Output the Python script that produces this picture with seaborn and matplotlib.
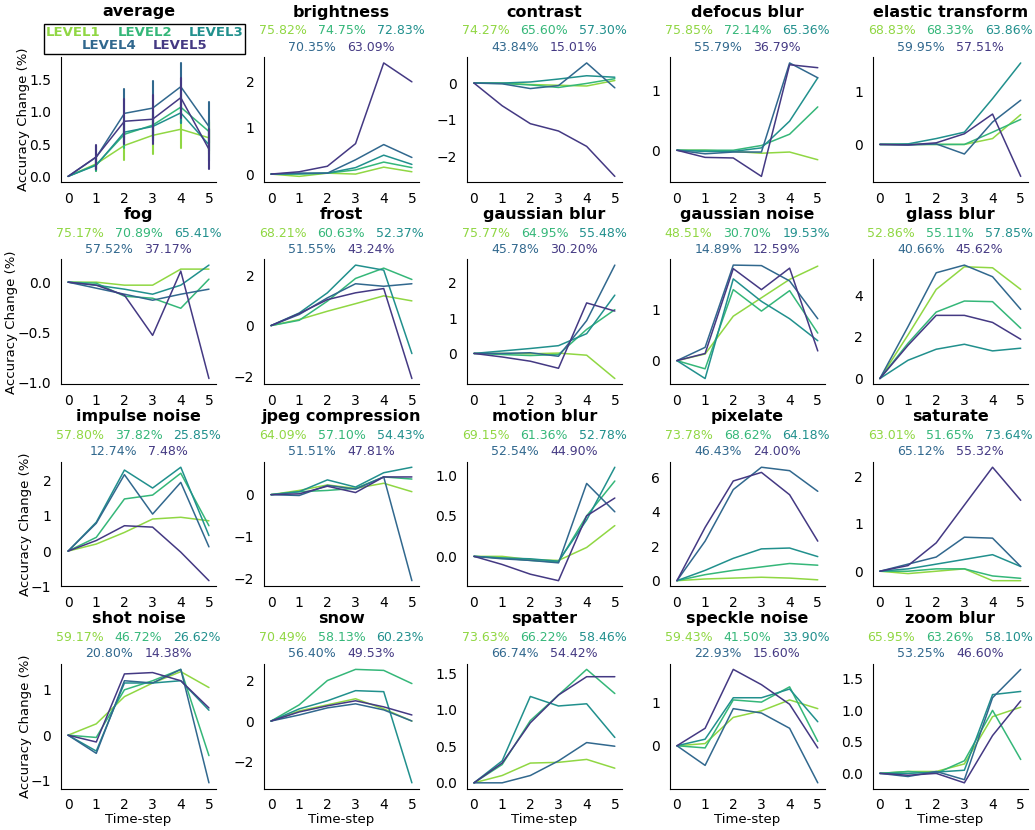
import matplotlib
matplotlib.use("Agg")
import matplotlib.pyplot as plt
from matplotlib.offsetbox import TextArea, HPacker, VPacker, AnchoredOffsetbox
import pandas as pd
import seaborn as sns

sns.set_style("white")
plt.rcParams.update({
    "font.family": ["DejaVu Sans"],
    "text.color": "black",
    "axes.labelcolor": "black",
    "axes.edgecolor": "black",
    "xtick.color": "black",
    "ytick.color": "black",
    "xtick.labelsize": 10,
    "ytick.labelsize": 10,
})

steps = [0, 1, 2, 3, 4, 5]
levels = ["LEVEL1", "LEVEL2", "LEVEL3", "LEVEL4", "LEVEL5"]

# Accuracy change (%) per time-step; one row per severity level (1..5).
# The *_acc lists hold the accuracy reached at each level.
brightness = [
    [0, -0.05, 0.02, 0.00, 0.15, 0.05],
    [0, 0.00, 0.02, 0.09, 0.26, 0.14],
    [0, 0.01, 0.02, 0.14, 0.41, 0.21],
    [0, 0.02, 0.02, 0.31, 0.64, 0.36],
    [0, 0.05, 0.17, 0.66, 2.41, 2.00],
]
brightness_acc = [75.82, 74.75, 72.83, 70.35, 63.09]

contrast = [
    [0, 0.00, -0.04, -0.06, -0.08, 0.07],
    [0, -0.01, -0.05, -0.12, -0.01, 0.12],
    [0, 0.00, 0.03, 0.11, 0.20, 0.16],
    [0, -0.02, -0.15, -0.07, 0.55, -0.13],
    [0, -0.62, -1.11, -1.31, -1.73, -2.55],
]
contrast_acc = [74.27, 65.60, 57.30, 43.84, 15.01]

defocus_blur = [
    [0, 0.00, -0.02, -0.05, -0.03, -0.16],
    [0, 0.00, 0.00, 0.08, 0.27, 0.73],
    [0, -0.02, -0.02, 0.04, 0.49, 1.22],
    [0, -0.06, -0.03, -0.03, 1.47, 1.22],
    [0, -0.12, -0.13, -0.44, 1.44, 1.39],
]
defocus_blur_acc = [75.85, 72.14, 65.36, 55.79, 36.79]

elastic_transform = [
    [0, 0.00, 0.00, 0.00, 0.11, 0.56],
    [0, 0.00, 0.00, 0.00, 0.23, 0.47],
    [0, 0.01, 0.11, 0.23, 0.86, 1.53],
    [0, -0.01, 0.01, -0.18, 0.42, 0.83],
    [0, -0.01, 0.03, 0.20, 0.57, -0.60],
]
elastic_transform_acc = [68.83, 68.33, 63.86, 59.95, 57.51]

fog = [
    [0, 0.00, -0.03, -0.03, 0.13, 0.13],
    [0, -0.01, -0.14, -0.16, -0.26, 0.03],
    [0, -0.03, -0.07, -0.12, -0.03, 0.17],
    [0, -0.06, -0.12, -0.18, -0.12, -0.07],
    [0, -0.03, -0.13, -0.53, 0.11, -0.96],
]
fog_acc = [75.17, 70.89, 65.41, 57.52, 37.17]

frost = [
    [0, 0.24, 0.57, 0.87, 1.18, 0.98],
    [0, 0.21, 0.97, 1.87, 2.28, 1.83],
    [0, 0.50, 1.30, 2.40, 2.20, -1.11],
    [0, 0.44, 1.10, 1.66, 1.56, 1.66],
    [0, 0.48, 1.03, 1.30, 1.47, -2.10],
]
frost_acc = [68.21, 60.63, 52.37, 51.55, 43.24]

gaussian_blur = [
    [0, 0.00, -0.01, 0.01, -0.05, -0.71],
    [0, -0.03, -0.06, -0.03, 0.68, 1.24],
    [0, 0.07, 0.14, 0.22, 0.56, 1.65],
    [0, 0.00, 0.02, -0.08, 0.93, 2.50],
    [0, -0.10, -0.22, -0.42, 1.43, 1.20],
]
gaussian_blur_acc = [75.77, 64.95, 55.48, 45.78, 30.20]

gaussian_noise = [
    [0, 0.13, 0.87, 1.23, 1.59, 1.85],
    [0, -0.16, 1.39, 0.97, 1.37, 0.54],
    [0, -0.35, 1.60, 1.16, 0.82, 0.39],
    [0, 0.26, 1.87, 1.86, 1.56, 0.82],
    [0, 0.14, 1.80, 1.39, 1.81, 0.19],
]
gaussian_noise_acc = [48.51, 30.70, 19.53, 14.89, 12.59]

glass_blur = [
    [0, 2.10, 4.29, 5.38, 5.33, 4.29],
    [0, 1.70, 3.20, 3.73, 3.70, 2.42],
    [0, 0.88, 1.41, 1.65, 1.33, 1.46],
    [0, 2.50, 5.09, 5.46, 4.90, 3.33],
    [0, 1.60, 3.04, 3.04, 2.70, 1.89],
]
glass_blur_acc = [52.86, 55.11, 57.85, 40.66, 45.62]

impulse_noise = [
    [0, 0.20, 0.53, 0.91, 0.96, 0.86],
    [0, 0.39, 1.48, 1.59, 2.21, 0.72],
    [0, 0.82, 2.30, 1.79, 2.38, 0.44],
    [0, 0.79, 2.17, 1.05, 1.95, 0.12],
    [0, 0.30, 0.72, 0.68, -0.03, -0.84],
]
impulse_noise_acc = [57.80, 37.82, 25.85, 12.74, 7.48]

jpeg_compression = [
    [0, 0.10, 0.23, 0.15, 0.27, 0.07],
    [0, 0.07, 0.10, 0.15, 0.42, 0.37],
    [0, 0.07, 0.35, 0.18, 0.52, 0.65],
    [0, -0.02, 0.22, 0.13, 0.42, -2.04],
    [0, 0.02, 0.20, 0.05, 0.42, 0.42],
]
jpeg_compression_acc = [64.09, 57.10, 54.43, 51.51, 47.81]

motion_blur = [
    [0, 0.00, -0.04, -0.05, 0.11, 0.38],
    [0, -0.02, -0.05, -0.07, 0.50, 0.93],
    [0, -0.02, -0.03, -0.06, 0.45, 1.10],
    [0, -0.03, -0.05, -0.08, 0.90, 0.55],
    [0, -0.10, -0.22, -0.30, 0.50, 0.72],
]
motion_blur_acc = [69.15, 61.36, 52.78, 52.54, 44.90]

pixelate = [
    [0, 0.10, 0.15, 0.20, 0.15, 0.05],
    [0, 0.35, 0.60, 0.80, 1.00, 0.90],
    [0, 0.60, 1.30, 1.85, 1.90, 1.40],
    [0, 2.30, 5.30, 6.60, 6.40, 5.20],
    [0, 3.10, 5.80, 6.30, 5.00, 2.30],
]
pixelate_acc = [73.78, 68.62, 64.18, 46.43, 24.00]

saturate = [
    [0, -0.05, 0.00, 0.05, -0.20, -0.20],
    [0, 0.00, 0.05, 0.05, -0.10, -0.15],
    [0, 0.05, 0.15, 0.25, 0.35, 0.10],
    [0, 0.15, 0.30, 0.72, 0.70, 0.10],
    [0, 0.12, 0.60, 1.40, 2.20, 1.50],
]
saturate_acc = [63.01, 51.65, 73.64, 65.12, 55.32]

shot_noise = [
    [0, 0.25, 0.85, 1.15, 1.40, 1.05],
    [0, -0.05, 1.00, 1.20, 1.45, -0.45],
    [0, -0.35, 1.15, 1.15, 1.20, 0.55],
    [0, -0.40, 1.20, 1.15, 1.45, -1.05],
    [0, -0.15, 1.35, 1.38, 1.20, 0.60],
]
shot_noise_acc = [59.17, 46.72, 26.62, 20.80, 14.38]

snow = [
    [0, 0.50, 0.80, 1.10, 0.60, 0.00],
    [0, 0.80, 2.00, 2.55, 2.50, 1.85],
    [0, 0.60, 1.00, 1.50, 1.45, -3.05],
    [0, 0.30, 0.65, 0.85, 0.55, 0.00],
    [0, 0.45, 0.75, 1.00, 0.70, 0.30],
]
snow_acc = [70.49, 58.13, 60.23, 56.40, 49.53]

spatter = [
    [0, 0.10, 0.27, 0.28, 0.32, 0.20],
    [0, 0.25, 0.85, 1.20, 1.55, 1.22],
    [0, 0.30, 1.18, 1.05, 1.08, 0.62],
    [0, 0.00, 0.10, 0.30, 0.55, 0.50],
    [0, 0.27, 0.82, 1.20, 1.45, 1.45],
]
spatter_acc = [73.63, 66.22, 58.46, 66.74, 54.42]

speckle_noise = [
    [0, 0.05, 0.65, 0.80, 1.05, 0.85],
    [0, -0.05, 1.05, 1.00, 1.35, 0.10],
    [0, 0.15, 1.10, 1.10, 1.30, 0.55],
    [0, -0.45, 0.85, 0.75, 0.40, -0.85],
    [0, 0.40, 1.75, 1.40, 0.95, -0.05],
]
speckle_noise_acc = [59.43, 41.50, 33.90, 22.93, 15.60]

zoom_blur = [
    [0, 0.03, 0.03, 0.15, 0.90, 1.05],
    [0, 0.03, 0.00, 0.20, 1.00, 0.22],
    [0, 0.00, 0.02, 0.05, 1.25, 1.30],
    [0, -0.05, 0.03, -0.10, 1.20, 1.65],
    [0, -0.03, 0.00, -0.15, 0.60, 1.15],
]
zoom_blur_acc = [65.95, 63.26, 58.10, 53.25, 46.60]

panels = [
    ("brightness", brightness, brightness_acc),
    ("contrast", contrast, contrast_acc),
    ("defocus blur", defocus_blur, defocus_blur_acc),
    ("elastic transform", elastic_transform, elastic_transform_acc),
    ("fog", fog, fog_acc),
    ("frost", frost, frost_acc),
    ("gaussian blur", gaussian_blur, gaussian_blur_acc),
    ("gaussian noise", gaussian_noise, gaussian_noise_acc),
    ("glass blur", glass_blur, glass_blur_acc),
    ("impulse noise", impulse_noise, impulse_noise_acc),
    ("jpeg compression", jpeg_compression, jpeg_compression_acc),
    ("motion blur", motion_blur, motion_blur_acc),
    ("pixelate", pixelate, pixelate_acc),
    ("saturate", saturate, saturate_acc),
    ("shot noise", shot_noise, shot_noise_acc),
    ("snow", snow, snow_acc),
    ("spatter", spatter, spatter_acc),
    ("speckle noise", speckle_noise, speckle_noise_acc),
    ("zoom blur", zoom_blur, zoom_blur_acc),
]

records = []
for name, series, _ in panels:
    for lvl, vals in zip(levels, series):
        for t, v in zip(steps, vals):
            records.append({"corruption": name, "level": lvl, "step": t, "change": v})
df = pd.DataFrame(records)

palette = sns.color_palette("viridis_r", 5)


def packed_rows(rows, size, weight, sep_x, sep_y):
    """Stack rows of coloured text snippets, each row centred."""
    packed = []
    for row in rows:
        items = [TextArea(s, textprops=dict(color=c, fontsize=size, fontweight=weight))
                 for s, c in row]
        packed.append(HPacker(children=items, align="baseline", pad=0, sep=sep_x))
    return VPacker(children=packed, align="center", pad=0, sep=sep_y)


fig, axes = plt.subplots(4, 5, figsize=(10.35, 8.3), dpi=100)
fig.subplots_adjust(left=0.059, right=0.993, bottom=0.05, top=0.931,
                    wspace=0.31, hspace=0.62)
flat = axes.ravel()

# Mean over all corruptions with standard-error bars
ax = flat[0]
sns.lineplot(data=df, x="step", y="change", hue="level", hue_order=levels,
             palette=palette, errorbar="se", err_style="bars",
             linewidth=1.1, legend=False, ax=ax)
ax.set_title("average", fontweight="bold", fontsize=11.5, pad=30)
legend_rows = [[(levels[i], palette[i]) for i in range(3)],
               [(levels[i], palette[i]) for i in range(3, 5)]]
key = AnchoredOffsetbox(loc="lower center",
                        child=packed_rows(legend_rows, 9.5, "bold", 12, 0),
                        pad=0.15, borderpad=0.25, frameon=True,
                        bbox_to_anchor=(0.54, 1.0), bbox_transform=ax.transAxes,
                        prop=dict(size=9))
key.patch.set_edgecolor("black")
key.patch.set_linewidth(1.0)
key.patch.set_boxstyle("square", pad=0)
ax.add_artist(key)

for ax, (name, _, acc) in zip(flat[1:], panels):
    sub = df[df["corruption"] == name]
    sns.lineplot(data=sub, x="step", y="change", hue="level", hue_order=levels,
                 palette=palette, errorbar=None, linewidth=1.1, legend=False, ax=ax)
    ax.set_title(name, fontweight="bold", fontsize=11.5, pad=29)
    labels = [f"{a:.2f}%" for a in acc]
    rows = [[(labels[i], palette[i]) for i in range(3)],
            [(labels[i], palette[i]) for i in range(3, 5)]]
    caption = AnchoredOffsetbox(loc="lower center",
                                child=packed_rows(rows, 9, "normal", 8, 2.5),
                                pad=0, borderpad=0.27, frameon=False,
                                bbox_to_anchor=(0.5, 1.0), bbox_transform=ax.transAxes,
                                prop=dict(size=9))
    ax.add_artist(caption)

for i, ax in enumerate(flat):
    ax.set_xticks(steps)
    sns.despine(ax=ax)
    row, col = divmod(i, 5)
    ax.set_xlabel("Time-step" if row == 3 else "", fontsize=9.5, labelpad=0.5)
    ax.set_ylabel("Accuracy Change (%)" if col == 0 else "", fontsize=9.5, labelpad=-0.5)

fig.savefig("out.png", dpi=100)
